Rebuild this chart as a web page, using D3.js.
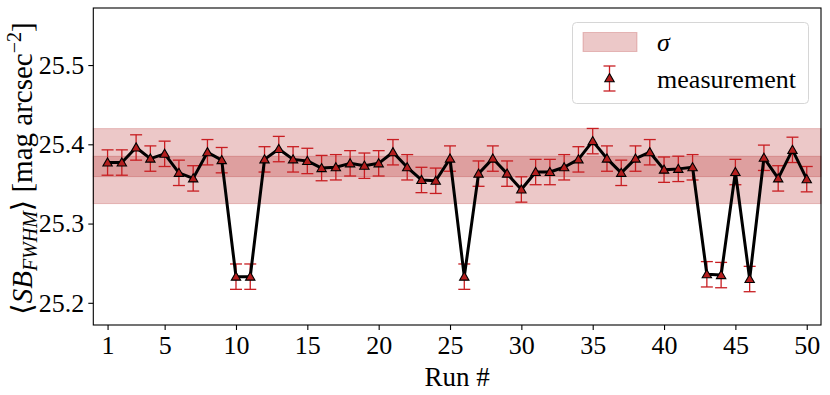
<!DOCTYPE html>
<html>
<head>
<meta charset="utf-8">
<script src="https://cdn.jsdelivr.net/npm/d3@7"></script>
<style>
  body { margin: 0; background: #fff; }
  text { font-family: "Liberation Serif", "DejaVu Serif", serif; fill: #000; }
</style>
</head>
<body>
<svg id="chart" width="830" height="395"></svg>
<script>
// run numbers and measured mean surface brightness
const runs = [1, 2, 3, 4, 5, 6, 7, 8, 9, 10,
  11, 12, 13, 14, 15, 16, 17, 18, 19, 20,
  21, 22, 23, 24, 25, 26, 27, 28, 29, 30,
  31, 32, 33, 34, 35, 36, 37, 38, 39, 40,
  41, 42, 43, 44, 45, 46, 47, 48, 49, 50]

const sbValues = [25.377, 25.377, 25.396, 25.382, 25.388, 25.364, 25.357, 25.390, 25.380, 25.233,
  25.233, 25.381, 25.394, 25.381, 25.379, 25.370, 25.371, 25.376, 25.373, 25.376,
  25.390, 25.371, 25.355, 25.354, 25.382, 25.233, 25.363, 25.382, 25.363, 25.343,
  25.365, 25.365, 25.371, 25.381, 25.404, 25.382, 25.364, 25.382, 25.390, 25.368,
  25.369, 25.371, 25.236, 25.235, 25.365, 25.230, 25.383, 25.357, 25.393, 25.356]

const sbErrors = [0.016, 0.016, 0.016, 0.016, 0.016, 0.016, 0.016, 0.016, 0.016, 0.016,
  0.016, 0.016, 0.016, 0.016, 0.016, 0.016, 0.016, 0.016, 0.016, 0.016,
  0.016, 0.016, 0.016, 0.016, 0.016, 0.016, 0.016, 0.016, 0.016, 0.016,
  0.016, 0.016, 0.016, 0.016, 0.016, 0.016, 0.016, 0.016, 0.016, 0.016,
  0.016, 0.016, 0.016, 0.016, 0.016, 0.016, 0.016, 0.016, 0.016, 0.016]

// shaded bands: [low, high]
const sigmaBands = [[25.3252, 25.4198], [25.3593, 25.3849]]

const xTicks = [1, 5, 10, 15, 20, 25, 30, 35, 40, 45, 50]
const yTicks = [25.2, 25.3, 25.4, 25.5]

const width = 830,
    height = 395,
    margin = { top: 8, right: 9, bottom: 70, left: 93.3 }

const bandColor = 'rgba(178, 34, 34, 0.25)',
    errColor = '#c81e22',
    markFill = '#b41e1e'

const svg = d3.select('#chart')

const x = d3.scaleLinear().domain([0, 51]).range([margin.left, width - margin.right])
const y = d3.scaleLinear().domain([25.172, 25.572]).range([height - margin.bottom, margin.top])

const data = runs.map((r, i) => ({ run: r, value: sbValues[i], err: sbErrors[i] }))

// sigma bands
svg.append('g')
  .selectAll('rect')
  .data(sigmaBands)
  .enter().append('rect')
    .attr('x', x.range()[0])
    .attr('width', x.range()[1] - x.range()[0])
    .attr('y', (d) => y(d[1]))
    .attr('height', (d) => y(d[0]) - y(d[1]))
    .attr('fill', bandColor)
    .attr('stroke', bandColor)
    .attr('stroke-width', 1)

// error bars
const err = svg.append('g')
  .attr('stroke', errColor)
  .attr('stroke-width', 1.3)

err.selectAll('line.bar')
  .data(data)
  .enter().append('line')
    .attr('class', 'bar')
    .attr('x1', (d) => x(d.run)).attr('x2', (d) => x(d.run))
    .attr('y1', (d) => y(d.value - d.err)).attr('y2', (d) => y(d.value + d.err))

err.selectAll('line.capTop')
  .data(data)
  .enter().append('line')
    .attr('class', 'capTop')
    .attr('x1', (d) => x(d.run) - 6).attr('x2', (d) => x(d.run) + 6)
    .attr('y1', (d) => y(d.value + d.err)).attr('y2', (d) => y(d.value + d.err))

err.selectAll('line.capBot')
  .data(data)
  .enter().append('line')
    .attr('class', 'capBot')
    .attr('x1', (d) => x(d.run) - 6).attr('x2', (d) => x(d.run) + 6)
    .attr('y1', (d) => y(d.value - d.err)).attr('y2', (d) => y(d.value - d.err))

// connecting line
svg.append('path')
  .datum(data)
  .attr('fill', 'none')
  .attr('stroke', '#000')
  .attr('stroke-width', 3)
  .attr('stroke-linejoin', 'round')
  .attr('d', d3.line().x((d) => x(d.run)).y((d) => y(d.value)))

// triangle markers
const tri = d3.symbol().type(d3.symbolTriangle).size(38)
svg.append('g')
  .selectAll('path')
  .data(data)
  .enter().append('path')
    .attr('d', tri)
    .attr('transform', (d) => `translate(${x(d.run)},${y(d.value) + 0.8})`)
    .attr('fill', markFill)
    .attr('stroke', '#000')
    .attr('stroke-width', 1.1)

// frame
svg.append('rect')
  .attr('x', x.range()[0])
  .attr('y', y.range()[1])
  .attr('width', x.range()[1] - x.range()[0])
  .attr('height', y.range()[0] - y.range()[1])
  .attr('fill', 'none')
  .attr('stroke', '#000')
  .attr('stroke-width', 1.1)

// axes
const xAxis = svg.append('g')
  .attr('transform', `translate(0,${y.range()[0]})`)
  .call(d3.axisBottom(x).tickValues(xTicks).tickSize(5).tickPadding(6).tickFormat(d3.format('d')))
xAxis.select('.domain').remove()
xAxis.selectAll('text').attr('font-size', 26).attr('font-family', '"Liberation Serif", serif')

const yAxis = svg.append('g')
  .attr('transform', `translate(${x.range()[0]},0)`)
  .call(d3.axisLeft(y).tickValues(yTicks).tickSize(5).tickPadding(4).tickFormat(d3.format('.1f')))
yAxis.select('.domain').remove()
yAxis.selectAll('text').attr('font-size', 26).attr('font-family', '"Liberation Serif", serif')
svg.selectAll('.tick line').attr('stroke-width', 1.1)

// axis labels
svg.append('text')
  .attr('x', (x.range()[0] + x.range()[1]) / 2)
  .attr('y', 386)
  .attr('text-anchor', 'middle')
  .attr('font-size', 27)
  .text('Run #')

const yl = svg.append('text')
  .attr('transform', `translate(32,${(y.range()[0] + y.range()[1]) / 2 + 2}) rotate(-90)`)
  .attr('text-anchor', 'middle')
  .attr('font-size', 29)
yl.append('tspan').text('\u27E8')
yl.append('tspan').attr('font-style', 'italic').text('SB')
yl.append('tspan').attr('font-style', 'italic').attr('font-size', 20).attr('dy', 5).text('FWHM')
yl.append('tspan').attr('dy', -5).text('\u27E9 [mag arcsec')
yl.append('tspan').attr('font-size', 20).attr('dy', -11).text('\u22122')
yl.append('tspan').attr('dy', 11).text(']')

// legend
const legend = svg.append('g')
legend.append('rect')
  .attr('x', 572.5).attr('y', 22.5)
  .attr('width', 236).attr('height', 81)
  .attr('rx', 4)
  .attr('fill', 'rgba(255,255,255,0.8)')
  .attr('stroke', '#d6d6d6')
  .attr('stroke-width', 1)

legend.append('rect')
  .attr('x', 583).attr('y', 32.5)
  .attr('width', 54).attr('height', 19)
  .attr('fill', bandColor)
  .attr('stroke', bandColor)

legend.append('text')
  .attr('x', 657).attr('y', 51)
  .attr('font-size', 26)
  .attr('font-style', 'italic')
  .text('\u03C3')

const lg = legend.append('g').attr('stroke', errColor).attr('stroke-width', 1.3)
lg.append('line').attr('x1', 609.5).attr('x2', 609.5).attr('y1', 66).attr('y2', 91)
lg.append('line').attr('x1', 603.5).attr('x2', 615.5).attr('y1', 66).attr('y2', 66)
lg.append('line').attr('x1', 603.5).attr('x2', 615.5).attr('y1', 91).attr('y2', 91)
legend.append('path')
  .attr('d', tri)
  .attr('transform', 'translate(609.5,79)')
  .attr('fill', markFill)
  .attr('stroke', '#000')
  .attr('stroke-width', 1.1)

legend.append('text')
  .attr('x', 657).attr('y', 88)
  .attr('font-size', 26)
  .attr('textLength', 139)
  .attr('lengthAdjust', 'spacing')
  .text('measurement')
</script>
</body>
</html>
